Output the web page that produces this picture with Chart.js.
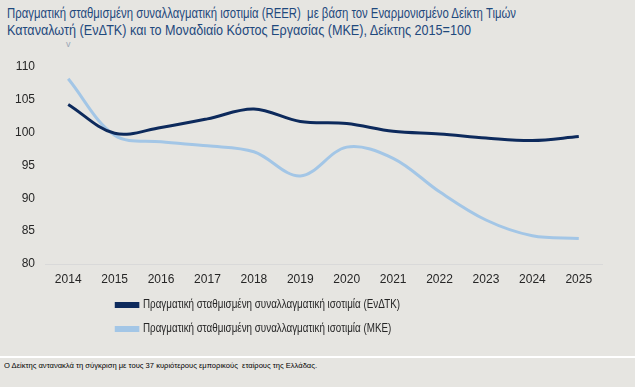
<!DOCTYPE html>
<html>
<head>
<meta charset="utf-8">
<script src="https://cdn.jsdelivr.net/npm/chart.js@4.4.1/dist/chart.umd.min.js"></script>
<style>
  html, body { margin: 0; padding: 0; background: #ffffff; width: 637px; height: 388px; overflow: hidden; }
  #panel { position: absolute; left: 0; top: 0; width: 635px; height: 356px; background: #e6e5e1; }
  .tline { position: absolute; left: 7px; font-family: "Liberation Sans", Arial, sans-serif; font-size: 14px; line-height: 17px; color: #1f497d; white-space: nowrap; transform-origin: 0 0; }
  #caret { position: absolute; left: 66px; top: 39px; font-family: "Liberation Sans", Arial, sans-serif; font-size: 9px; color: #9aa6b6; }
  #chartbox { position: absolute; left: 0; top: 55px; width: 635px; height: 300px; }
  #foot { position: absolute; left: 0; top: 358px; width: 635px; height: 29px; background: #e6e5e1; }
  #foottext { position: absolute; left: 4px; top: 3px; font-family: "Liberation Sans", Arial, sans-serif; font-size: 8px; color: #000; white-space: nowrap; transform-origin: 0 0; }
</style>
</head>
<body>
<div id="panel"></div>
<div class="tline" id="t1" style="top:5px" data-w="509">Πραγματική σταθμισμένη συναλλαγματική ισοτιμία (REER) &nbsp;με βάση τον Εναρμονισμένο Δείκτη Τιμών</div>
<div class="tline" id="t2" style="top:22px" data-w="464">Καταναλωτή (ΕνΔΤΚ) και το Μοναδιαίο Κόστος Εργασίας (ΜΚΕ), Δείκτης 2015=100</div>
<div id="caret">v</div>
<div id="chartbox"><canvas id="c" width="635" height="300"></canvas></div>
<div id="foot"><div id="foottext" data-w="313">Ο Δείκτης αντανακλά τη σύγκριση με τους 37 κυριότερους εμπορικούς &nbsp;εταίρους της Ελλάδας.</div></div>
<script>
const years = ["2014","2015","2016","2017","2018","2019","2020","2021","2022","2023","2024","2025"];
const reerHicp = [104.3, 99.9, 100.8, 102.1, 103.6, 101.7, 101.4, 100.2, 99.8, 99.2, 98.8, 99.4];
const reerUlc = [108.2, 99.6, 98.6, 98.0, 97.1, 93.4, 97.8, 96.1, 91.0, 86.7, 84.3, 83.9];
const seriesNames = [
  "Πραγματική σταθμισμένη συναλλαγματική ισοτιμία (ΕνΔΤΚ)",
  "Πραγματική σταθμισμένη συναλλαγματική ισοτιμία (ΜΚΕ)"
];
const yTicks = [80, 85, 90, 95, 100, 105, 110];

document.querySelectorAll('[data-w]').forEach(el => {
  const target = parseFloat(el.dataset.w);
  const w = el.getBoundingClientRect().width;
  if (w > 0) el.style.transform = 'scaleX(' + (target / w) + ')';
});

const LEG_FONT = '12px "Liberation Sans", Arial, sans-serif';
const LEG_START = 116, LEG_TEXT_W = 257, LEG_BOX_W = 22, LEG_PAD = 12;
const mctx = document.createElement('canvas').getContext('2d');
mctx.font = LEG_FONT;
const legScale = LEG_TEXT_W / mctx.measureText(seriesNames[0]).width;

const legendShift = {
  id: 'legendShift',
  afterLayout(chart) {
    const lg = chart.legend;
    if (!lg) return;
    lg.left = LEG_START - LEG_PAD;
    if (!lg._wrapped) {
      const orig = lg.draw.bind(lg);
      lg.draw = function (area) {
        const ctx = chart.ctx;
        ctx.save();
        ctx.translate(LEG_START, 0);
        ctx.scale(legScale, 1);
        ctx.translate(-LEG_START, 0);
        orig(area);
        ctx.restore();
      };
      lg._wrapped = true;
    }
  }
};

new Chart(document.getElementById('c'), {
  type: 'line',
  data: {
    labels: years,
    datasets: [
      { label: seriesNames[0], data: reerHicp, borderColor: '#0d2a5c', backgroundColor: '#0d2a5c', borderWidth: 3, pointRadius: 0, tension: 0.35, fill: false },
      { label: seriesNames[1], data: reerUlc, borderColor: '#a3c6e6', backgroundColor: '#a3c6e6', borderWidth: 3, pointRadius: 0, tension: 0.35, fill: false }
    ]
  },
  plugins: [legendShift],
  options: {
    responsive: false,
    animation: false,
    layout: { padding: { top: 12, left: 0, right: 33, bottom: 10 } },
    plugins: {
      tooltip: { enabled: false },
      legend: {
        position: 'bottom',
        align: 'start',
        labels: {
          boxWidth: Math.round(LEG_BOX_W / legScale), boxHeight: 3, padding: LEG_PAD,
          color: '#262626',
          font: { family: '"Liberation Sans", Arial, sans-serif', size: 12 }
        }
      }
    },
    scales: {
      x: {
        offset: true,
        grid: { display: false, drawTicks: false },
        border: { display: true, color: '#d9d9d9', width: 1 },
        ticks: { color: '#262626', padding: 8, maxRotation: 0, font: { family: '"Liberation Sans", Arial, sans-serif', size: 12 } },
        afterFit: (s) => { s.height = 23; }
      },
      y: {
        min: 80, max: 110,
        afterBuildTicks: (s) => { s.ticks = yTicks.map(v => ({ value: v })); },
        grid: { display: false, drawTicks: false },
        border: { display: false },
        ticks: { color: '#262626', padding: 10, font: { family: '"Liberation Sans", Arial, sans-serif', size: 12 } },
        afterFit: (s) => { s.width = 45; s.paddingTop = 0; s.paddingBottom = 0; }
      }
    }
  }
});
</script>
</body>
</html>
